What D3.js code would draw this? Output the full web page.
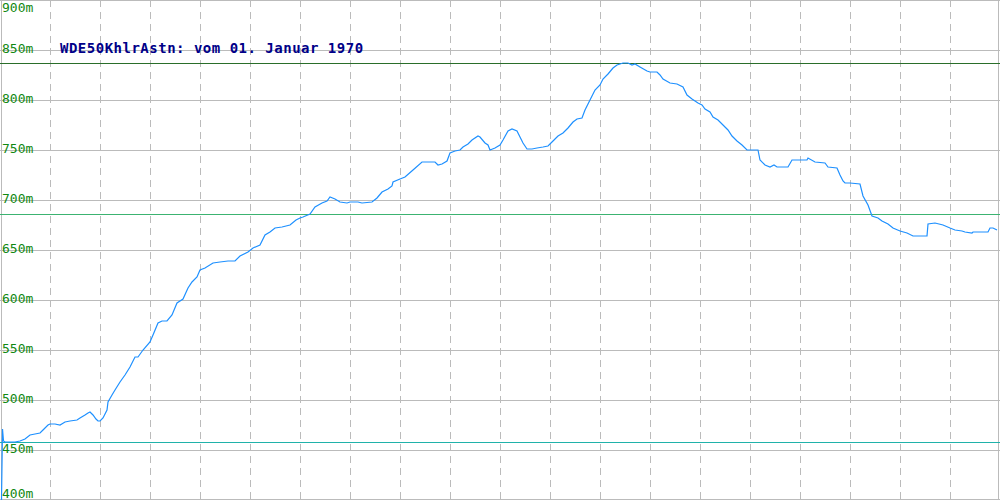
<!DOCTYPE html>
<html><head><meta charset="utf-8">
<script src="https://cdn.jsdelivr.net/npm/d3@7"></script>
<style>html,body{margin:0;padding:0;background:#fff;overflow:hidden}</style>
</head><body>
<svg id="c" width="1000" height="500"></svg>
<script>
const titleText = "WDE50KhlrAstn: vom 01. Januar 1970";
const yTicks = [400, 450, 500, 550, 600, 650, 700, 750, 800, 850, 900];
const xTicks = [50,100,150,200,250,300,350,400,450,500,550,600,650,700,750,800,850,900,950];
const dist = [1.5,2.5,3.5,5,10,15,20,25,30,35,40,43,48,50,55,60,65,70,77,80,85,88,90,93,96,98,100,103,107,108,112,115,120,125,130,135,138,143,150,153,158,162,167,172,177,183,188,192,197,200,205,213,220,228,235,240,248,253,260,265,270,275,282,290,296,300,303,310,315,322,327,330,335,340,347,350,358,362,372,377,382,388,392,393,400,405,413,422,435,438,442,447,450,455,460,463,468,472,478,480,485,488,490,495,500,503,508,512,517,520,523,527,532,537,543,548,553,558,563,568,573,577,582,585,590,595,600,603,608,613,617,623,628,632,635,640,647,650,657,660,663,670,677,683,687,692,698,702,705,710,713,718,723,728,732,737,742,747,758,760,765,770,774,777,788,792,807,808,815,825,828,837,840,843,845,850,860,863,868,872,878,882,888,893,900,907,913,927,928,935,943,950,955,962,965,972,973,988,990,993,997];
const elev = [400,471,459,458,458,458,459,461,465,466,467,470,475,476,476,475,478,479,480,482,485,487,488,485,481,479,479,482,490,498,505,510,518,525,533,543,543,550,558,565,577,579,579,585,597,601,612,618,623,630,632,637,638,639,639,644,648,652,655,665,668,672,673,675,680,682,683,686,693,697,699,703,701,698,697,698,698,697,698,702,708,711,714,718,721,723,730,738,738,735,736,739,747,749,750,753,756,760,764,763,757,755,750,752,755,760,769,771,769,763,757,751,751,752,753,754,759,764,767,772,778,781,782,790,800,810,815,821,826,832,835,837,837,835,836,833,829,828,828,825,821,817,816,813,805,801,797,795,791,788,783,780,775,770,764,759,755,750,750,740,735,733,735,733,733,740,740,742,738,737,733,732,725,719,717,717,716,704,695,684,682,679,676,672,669,667,664,664,676,677,675,672,670,669,668,667,668,668,672,672,670];
const refLines = [837, 686, 458];
const refColors = ["#2a6e2a", "#3cb371", "#20b2aa"];

const svg = d3.select("#c");
const x = d3.scaleLinear().domain([0, 1000]).range([0, 1000]);
const y = d3.scaleLinear().domain([400, 900]).range([500, 0]);
const crispY = v => Math.round(Math.min(v, 499)) + 0.5;
const crispX = v => Math.round(v) + 0.5;

// horizontal grid
svg.append("g").selectAll("line").data(yTicks).join("line")
  .attr("x1", 0).attr("x2", 1000)
  .attr("y1", d => crispY(y(d))).attr("y2", d => crispY(y(d)))
  .attr("stroke", "#bbbbbb").attr("shape-rendering", "crispEdges");
// vertical dashed grid
svg.append("g").selectAll("line").data(xTicks).join("line")
  .attr("x1", d => crispX(x(d))).attr("x2", d => crispX(x(d)))
  .attr("y1", 0).attr("y2", 500)
  .attr("stroke", "#bbbbbb").attr("stroke-dasharray", "7,5")
  .attr("shape-rendering", "crispEdges");
// frame left/right
svg.append("g").selectAll("line").data([1, 998]).join("line")
  .attr("x1", d => d + 0.5).attr("x2", d => d + 0.5).attr("y1", 0).attr("y2", 500)
  .attr("stroke", "#bbbbbb").attr("shape-rendering", "crispEdges");

// reference lines
svg.append("g").selectAll("line").data(refLines).join("line")
  .attr("x1", 0).attr("x2", 1000)
  .attr("y1", d => crispY(y(d))).attr("y2", d => crispY(y(d)))
  .attr("stroke", (d, i) => refColors[i]).attr("shape-rendering", "crispEdges");

// y labels
svg.append("g").selectAll("text").data(yTicks).join("text")
  .attr("x", 2)
  .attr("y", d => Math.min(Math.max(y(d) + 3, 12), 498))
  .attr("fill", "#118811")
  .attr("font-family", "DejaVu Sans Mono, monospace")
  .attr("font-size", 13)
  .text(d => d + "m");

// title
svg.append("text").attr("x", 60).attr("y", 53)
  .attr("fill", "#000088")
  .attr("font-family", "DejaVu Sans Mono, monospace")
  .attr("font-size", 14).attr("font-weight", "bold")
  .attr("letter-spacing", 0.5)
  .text(titleText);

// profile line
const pts = dist.map((d, i) => [d, elev[i]]);
svg.append("path").datum(pts)
  .attr("fill", "none").attr("stroke", "#1e90ff").attr("stroke-width", 1.2)
  .attr("d", d3.line().x(d => x(d[0])).y(d => y(d[1])));
</script>
</body></html>
